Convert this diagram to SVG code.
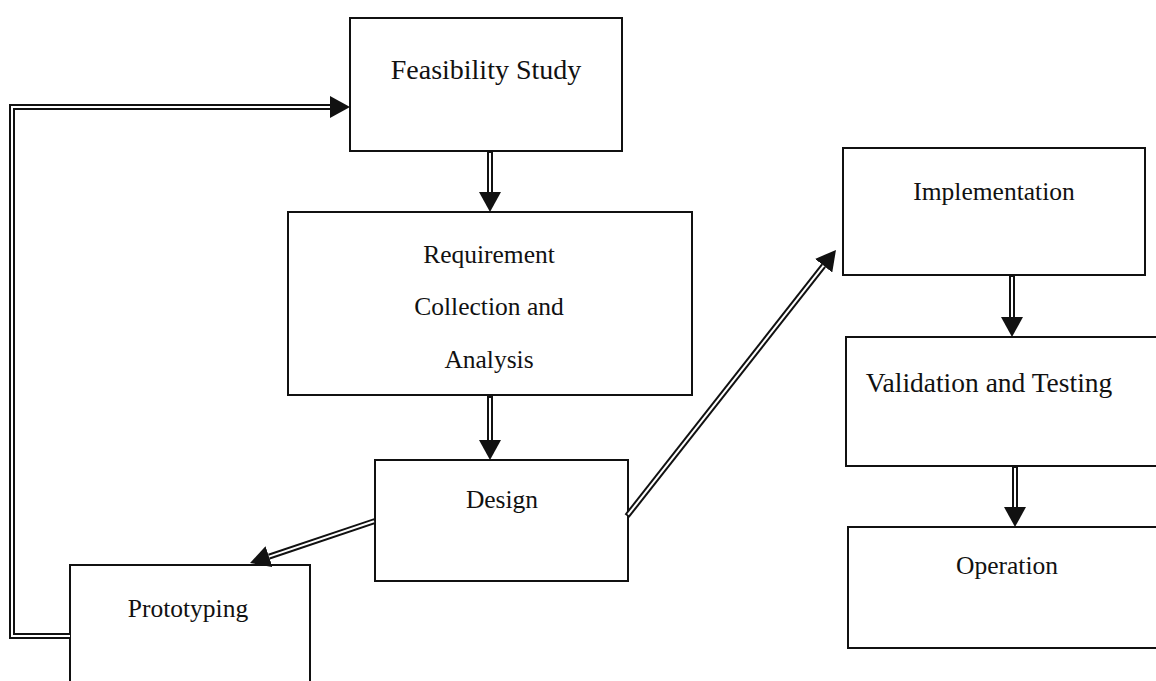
<svg xmlns="http://www.w3.org/2000/svg" width="1156" height="681" viewBox="0 0 1156 681">
<style>
.box{fill:#fff;stroke:#111;stroke-width:2}
.t{font-family:"Liberation Serif","Times New Roman",serif;font-size:25.5px;fill:#111;text-anchor:middle}
.outer{fill:none;stroke:#111;stroke-width:6;stroke-linejoin:miter}
.inner{fill:none;stroke:#fff;stroke-width:2;stroke-linejoin:miter}
</style>
<defs>
<marker id="ah" markerUnits="userSpaceOnUse" viewBox="0 0 20 22" markerWidth="20" markerHeight="22" refX="0" refY="11" orient="auto">
<path d="M0,0 L20,11 L0,22 Z" fill="#111"/>
</marker>
</defs>
<rect width="1156" height="681" fill="#fff"/>
<g id="feasibility">
<rect class="box" x="350" y="18" width="272" height="133"/>
<text class="t" x="486" y="79" style="font-size:28px">Feasibility Study</text>
</g>
<g id="requirement">
<rect class="box" x="288" y="212" width="404" height="183"/>
<text class="t" x="489" y="263">Requirement</text>
<text class="t" x="489" y="315">Collection and</text>
<text class="t" x="489" y="368">Analysis</text>
</g>
<g id="design">
<rect class="box" x="375" y="460" width="253" height="121"/>
<text class="t" x="502" y="508">Design</text>
</g>
<g id="prototyping">
<rect class="box" x="70" y="565" width="240" height="140"/>
<text class="t" x="188" y="617">Prototyping</text>
</g>
<g id="implementation">
<rect class="box" x="843" y="148" width="302" height="127"/>
<text class="t" x="994" y="200">Implementation</text>
</g>
<g id="validation">
<rect class="box" x="846" y="337" width="320" height="129"/>
<text class="t" x="989" y="392" style="font-size:27.5px">Validation and Testing</text>
</g>
<g id="operation">
<rect class="box" x="848" y="527" width="320" height="121"/>
<text class="t" x="1007" y="574">Operation</text>
</g>
<g id="connectors">
<path class="outer" d="M490,151 L490,192" marker-end="url(#ah)"/>
<path class="inner" d="M490,153 L490,192"/>
<path class="outer" d="M490,396 L490,440" marker-end="url(#ah)"/>
<path class="inner" d="M490,398 L490,440"/>
<path class="outer" d="M375,521 L269,556.6" marker-end="url(#ah)"/>
<path class="inner" d="M374,521.3 L269,556.6"/>
<path class="outer" d="M70,636 L12,636 L12,107 L330,107" marker-end="url(#ah)"/>
<path class="inner" d="M70,636 L12,636 L12,107 L330,107"/>
<path class="outer" d="M627,516 L823.6,265.7" marker-end="url(#ah)"/>
<path class="inner" d="M628,514.7 L823.6,265.7"/>
<path class="outer" d="M1012,275 L1012,317" marker-end="url(#ah)"/>
<path class="inner" d="M1012,277 L1012,317"/>
<path class="outer" d="M1015,466 L1015,507" marker-end="url(#ah)"/>
<path class="inner" d="M1015,468 L1015,507"/>
</g>
</svg>
